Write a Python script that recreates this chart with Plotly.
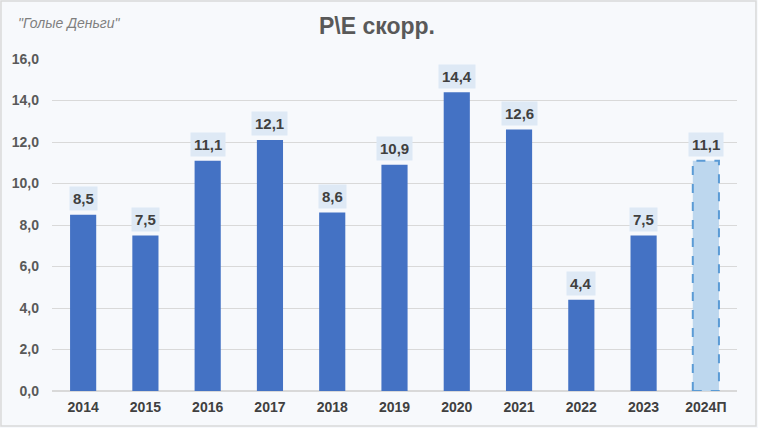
import plotly.graph_objects as go

categories = ["2014", "2015", "2016", "2017", "2018", "2019", "2020", "2021", "2022", "2023", "2024П"]
values = [8.5, 7.5, 11.1, 12.1, 8.6, 10.9, 14.4, 12.6, 4.4, 7.5, 11.1]
forecast = [False] * 10 + [True]
y_ticks = [0, 2, 4, 6, 8, 10, 12, 14, 16]

FONT = "Liberation Sans, Arial, sans-serif"
BAR_W = 0.42
fill = ["#BDD7EE" if f else "#4472C4" for f in forecast]
pos = list(range(len(categories)))

fig = go.Figure()
fig.add_trace(go.Bar(
    x=pos, y=values, marker=dict(color=fill, line=dict(width=0)),
    width=BAR_W, hovertext=categories, hoverinfo="text+y",
))

for i, v, f in zip(pos, values, forecast):
    if f:
        fig.add_shape(type="rect", xref="x", yref="y",
                      x0=i - BAR_W / 2, x1=i + BAR_W / 2, y0=0, y1=v,
                      line=dict(color="#5B9BD5", width=2, dash="dash"),
                      fillcolor="rgba(0,0,0,0)")
    fig.add_annotation(x=i, y=v, text=f"{v:.1f}".replace(".", ","),
                       showarrow=False, yshift=16, bgcolor="#DEE9F5",
                       borderpad=3,
                       font=dict(size=15, color="#404040", family=FONT, weight="bold"))

fig.add_annotation(xref="paper", yref="paper", x=0.474, y=1, yshift=33,
                   xanchor="center", yanchor="middle",
                   text="P\\E скорр.", showarrow=False,
                   font=dict(size=23, color="#595959", family=FONT, weight="bold"))
fig.add_annotation(xref="paper", yref="paper", x=-0.052, y=1, yshift=36,
                   xanchor="left", yanchor="middle",
                   text="\"Голые Деньги\"", showarrow=False,
                   font=dict(size=14, color="#7F7F7F", family=FONT, style="italic"))

fig.add_shape(type="rect", xref="paper", yref="paper", x0=-0.0745, x1=1.0277, y0=-0.1054, y1=1.1747,
              line=dict(color="#D9D9D9", width=1.5), fillcolor="rgba(0,0,0,0)", layer="below")

fig.update_layout(
    width=758, height=428,
    margin=dict(l=52, r=21, t=59, b=37),
    paper_bgcolor="#F7F9FC", plot_bgcolor="#F7F9FC",
    separators=", ",
    showlegend=False,
    font=dict(family=FONT, color="#595959"),
    xaxis=dict(range=[-0.5, len(categories) - 0.5], tickvals=pos, ticktext=categories,
               showgrid=False, zeroline=False,
               tickfont=dict(size=14, color="#404040", family=FONT, weight="bold"),
               ticklabelstandoff=6, showline=False),
    yaxis=dict(range=[0, 16], tickvals=y_ticks, tickformat=".1f",
               gridcolor="#D9D9D9", gridwidth=1, zeroline=True, zerolinecolor="#D9D9D9",
               tickfont=dict(size=14, color="#595959", family=FONT, weight="bold"),
               ticklabelstandoff=12),
)

fig.write_html("out.html", config={"displayModeBar": False},
               post_script="document.body.style.margin='0px';")
